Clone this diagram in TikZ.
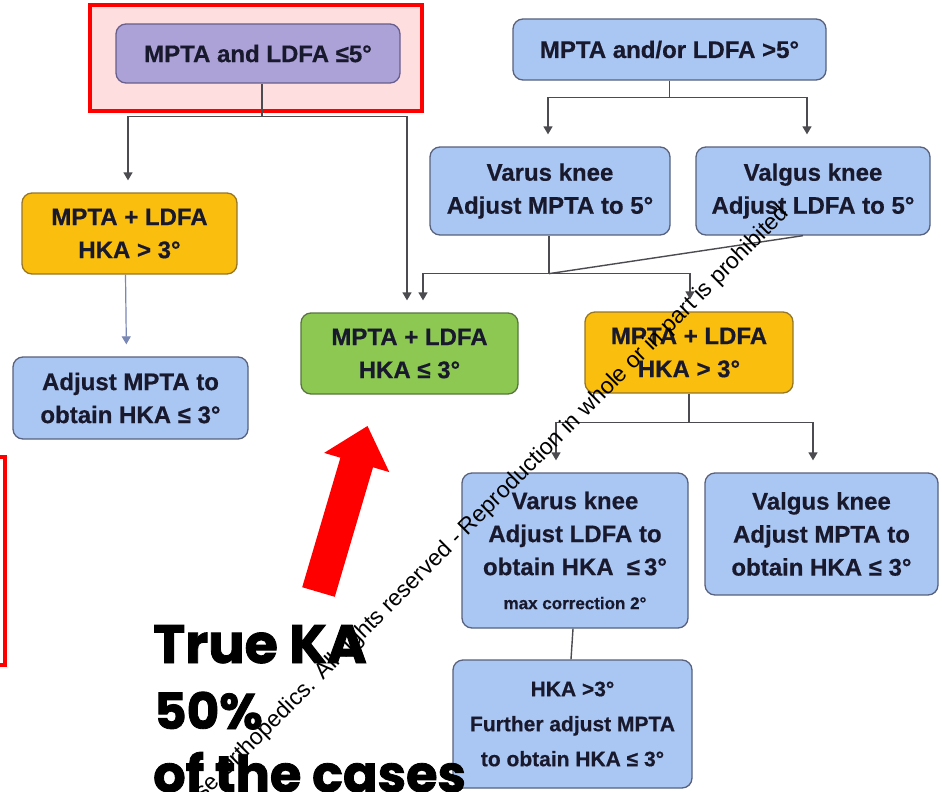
\documentclass[tikz,border=0pt]{standalone}
\usepackage{fontspec}
\setmainfont{Liberation Sans}[BoldFeatures={FakeBold=0.5}]
\newfontfamily\headfont{Poppins}[BoldFeatures={FakeBold=1.6}]
\usetikzlibrary{arrows.meta}

\definecolor{boxblue}{RGB}{170,198,242}
\definecolor{boxgreen}{RGB}{141,200,82}
\definecolor{boxorange}{RGB}{250,190,15}
\definecolor{boxpurple}{RGB}{172,162,216}
\definecolor{edgeblue}{RGB}{88,98,125}
\definecolor{edgegreen}{RGB}{88,118,62}
\definecolor{edgeorange}{RGB}{150,118,40}
\definecolor{edgepurple}{RGB}{105,95,140}
\definecolor{linkgray}{RGB}{75,75,80}
\definecolor{linkblue}{RGB}{120,135,180}
\definecolor{hilite}{RGB}{255,0,0}
\definecolor{hilitefill}{RGB}{255,222,224}
\definecolor{ink}{RGB}{25,25,45}

\tikzset{
  box/.style={rounded corners=10pt, line width=1.3pt, inner sep=0pt,
    align=center, text=ink, font=\bfseries\fontsize{24}{33}\selectfont},
  bluebox/.style={box, draw=edgeblue, fill=boxblue},
  greenbox/.style={box, draw=edgegreen, fill=boxgreen},
  orangebox/.style={box, draw=edgeorange, fill=boxorange},
  purplebox/.style={box, draw=edgepurple, fill=boxpurple},
  link/.style={draw=linkgray, line width=1.4pt},
  arrowed/.style={-{Triangle[width=9pt,length=8pt]}, shorten >=12pt},
  caption/.style={anchor=base west, inner sep=0pt, text=black},
}

\begin{document}
\begin{tikzpicture}[x=1pt,y=-1pt]
\useasboundingbox (0,0) rectangle (942,792);
\fill[white] (0,0) rectangle (942,792);
\clip (0,0) rectangle (942,792);

% highlight frame around the first criterion
\draw[hilite, line width=4pt, fill=hilitefill] (90,5) rectangle (422,111);

% decision boxes
\node[purplebox, minimum width=284pt, minimum height=59pt] (p1) at (258,53.5) {MPTA and LDFA ≤5°};
\node[bluebox, minimum width=313pt, minimum height=61pt] (t1) at (669.5,49.5) {MPTA and/or LDFA >5°};
\node[orangebox, minimum width=215pt, minimum height=81pt] (o1) at (129.5,233.5) {MPTA + LDFA\\HKA > 3°};
\node[bluebox, minimum width=235pt, minimum height=82pt] (b1) at (130.5,398) {Adjust MPTA to\\obtain HKA ≤ 3°};
\node[bluebox, minimum width=240pt, minimum height=88pt] (v1) at (550,191) {Varus knee\\Adjust MPTA to 5°};
\node[bluebox, minimum width=234pt, minimum height=88pt] (g1) at (813,191) {Valgus knee\\Adjust LDFA to 5°};
\node[greenbox, minimum width=217pt, minimum height=81pt] (gr) at (409.5,353.5) {MPTA + LDFA\\HKA ≤ 3°};
\node[orangebox, minimum width=208pt, minimum height=81pt] (o2) at (689,352.5) {MPTA + LDFA\\HKA > 3°};
\node[bluebox, minimum width=226pt, minimum height=155pt] (v2) at (575,550.5)
  {Varus knee\\Adjust LDFA to\\obtain HKA\hspace{0.55em}≤\,3°\\[1pt]{\fontsize{17}{20}\selectfont max correction 2°}};
\node[bluebox, minimum width=233pt, minimum height=122pt] (g2) at (821.5,534) {Valgus knee\\Adjust MPTA to\\obtain HKA ≤ 3°};
\node[bluebox, minimum width=239pt, minimum height=128pt, font=\bfseries\fontsize{21}{35}\selectfont] (f1) at (572.5,724)
  {HKA >3°\\Further adjust MPTA\\to obtain HKA ≤ 3°};

% connectors from the first criterion
\draw[link] ([xshift=4pt]p1.south) -- ++(0,33) coordinate (j1);
\draw[link, arrowed] (j1) -| ([xshift=-1.5pt]o1.north);
\draw[link, arrowed] (j1) -| ([xshift=-2.5pt]gr.north);
\draw[draw=linkblue, line width=1.2pt, -{Triangle[width=9pt,length=8pt]}, shorten >=12pt] ([xshift=-4pt]o1.south) -- ([xshift=-4pt]b1.north);

% connectors from the second criterion
\draw[link] (t1.south) -- ++(0,17) coordinate (j2);
\draw[link, arrowed] (j2) -| ([xshift=-2pt]v1.north);
\draw[link, arrowed] (j2) -| ([xshift=-6pt]g1.north);

% varus / valgus join into the two outcomes
\draw[link] ([xshift=-1pt]v1.south) -- ++(0,38) coordinate (j3);
\draw[link] ([xshift=-10pt]g1.south) -- (j3);
\draw[link, arrowed] (j3) -| ([xshift=13.5pt]gr.north);
\draw[link, arrowed] (j3) -| ([xshift=1pt]o2.north);

% second correction step
\draw[link] (o2.south) -- ++(0,29) coordinate (j4);
\draw[link, arrowed] (j4) -| ([xshift=-19pt]v2.north);
\draw[link, arrowed] (j4) -| ([xshift=-8.5pt]g2.north);
\draw[link] ([xshift=-2pt]v2.south) -- ([xshift=-1.5pt]f1.north);

% partial frame at the left edge
\draw[hilite, line width=4pt] (-30,457) rectangle (5,665);

% block arrow pointing at the green outcome
\fill[hilite] (302.2,587.2) -- (340.4,457.7) -- (324.1,452.9) -- (367.5,426)
  -- (389.3,472.1) -- (373,467.3) -- (334.8,596.8) -- cycle;

% caption, one line per node
\node[caption, font=\headfont\bfseries\fontsize{54}{60}\selectfont] (ka1) at (153,663) {True KA};
\node[caption, font=\headfont\bfseries\fontsize{50}{60}\selectfont] (ka2) at (154,729) {50\%};
\node[caption, font=\headfont\bfseries\fontsize{51}{60}\selectfont] (ka3) at (153,792) {of the cases};

% copyright line
\node[anchor=base east, rotate=45, inner sep=0pt, font=\fontsize{23}{23}\selectfont] (rights) at (790,214)
  {se Orthopedics. All rights reserved - Reproduction in whole or in part is prohibited};
\end{tikzpicture}
\end{document}
